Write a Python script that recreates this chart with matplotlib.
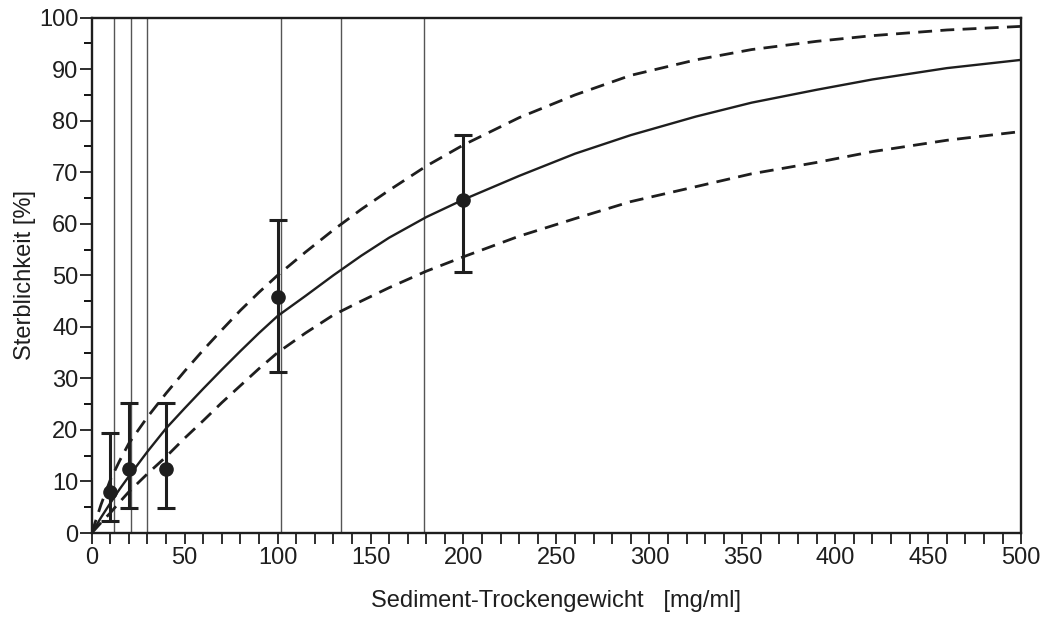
import matplotlib
matplotlib.use("Agg")
import matplotlib.pyplot as plt
from matplotlib.ticker import MultipleLocator

plt.rcParams['font.family'] = ['Liberation Sans', 'DejaVu Sans']

# measured points with error bars
dose = [10, 20, 40, 100, 200]
mort = [8.0, 12.5, 12.5, 45.8, 64.7]
err_lo = [2.3, 4.8, 4.8, 31.3, 50.6]
err_hi = [19.5, 25.3, 25.3, 60.7, 77.2]

# fitted curve and confidence band
fit_x = [0, 5, 10, 15, 20, 30, 40, 50, 60, 70, 80, 90, 100, 115, 130, 145, 160,
         180, 200, 230, 260, 290, 325, 355, 390, 420, 460, 500]
fit_y = [0, 3.0, 5.8, 8.5, 11.0, 15.8, 20.3, 24.2, 28.0, 31.7, 35.3, 38.8, 42.1,
         46.0, 50.0, 53.8, 57.3, 61.3, 64.7, 69.3, 73.6, 77.2, 80.8, 83.5, 86.0,
         88.0, 90.2, 91.8]
upper_y = [0, 5.5, 10.3, 14.0, 17.4, 22.5, 27.1, 31.4, 35.5, 39.4, 43.2, 46.7, 50.0,
           54.5, 58.8, 62.8, 66.5, 71.2, 75.3, 80.6, 85.0, 88.8, 91.8, 93.8, 95.4,
           96.5, 97.6, 98.3]
lower_y = [0, 2.0, 3.9, 6.0, 8.0, 11.5, 14.8, 18.4, 21.8, 25.3, 28.6, 31.9, 35.0,
           38.8, 42.3, 45.0, 47.6, 50.8, 53.6, 57.6, 61.0, 64.3, 67.2, 69.7, 71.9,
           74.0, 76.2, 77.9]

# vertical reference lines
vlines = [12, 21, 30, 102, 134, 179]

fig = plt.figure(figsize=(10.42, 6.18), dpi=100)
ax = fig.add_axes([0.088, 0.1375, 0.892, 0.834])

for v in vlines:
    ax.axvline(v, color='#555555', lw=1.0, zorder=1)

ax.plot(fit_x, fit_y, color='#1e1e1e', lw=1.7, zorder=3)
ax.plot(fit_x, upper_y, color='#1e1e1e', lw=2.0, ls=(0, (5, 3)), zorder=3)
ax.plot(fit_x, lower_y, color='#1e1e1e', lw=2.0, ls=(0, (5, 3)), zorder=3)

yerr = [[m - lo for m, lo in zip(mort, err_lo)], [hi - m for m, hi in zip(mort, err_hi)]]
ax.errorbar(dose, mort, yerr=yerr, fmt='o', color='#1e1e1e', ms=9.5,
            elinewidth=2.2, capsize=6.5, capthick=2.2, zorder=4)

ax.set_xlim(0, 500)
ax.set_ylim(0, 100)
ax.xaxis.set_major_locator(MultipleLocator(50))
ax.xaxis.set_minor_locator(MultipleLocator(10))
ax.yaxis.set_major_locator(MultipleLocator(10))
ax.yaxis.set_minor_locator(MultipleLocator(5))

for s in ax.spines.values():
    s.set_linewidth(1.7)
    s.set_color('#1e1e1e')

ax.tick_params(axis='x', which='both', direction='out', length=8, width=1.3,
               labelsize=17, pad=2, colors='#1e1e1e')
ax.tick_params(axis='y', which='major', direction='out', length=8.5, width=1.3,
               labelsize=17, pad=1, colors='#1e1e1e')
ax.tick_params(axis='y', which='minor', direction='out', length=6, width=1.3)

ax.set_xlabel('Sediment-Trockengewicht   [mg/ml]', fontsize=17, labelpad=15, color='#1e1e1e')
ax.set_ylabel('Sterblichkeit [%]', fontsize=17, labelpad=2, color='#1e1e1e')

fig.savefig('out.png', dpi=100)
